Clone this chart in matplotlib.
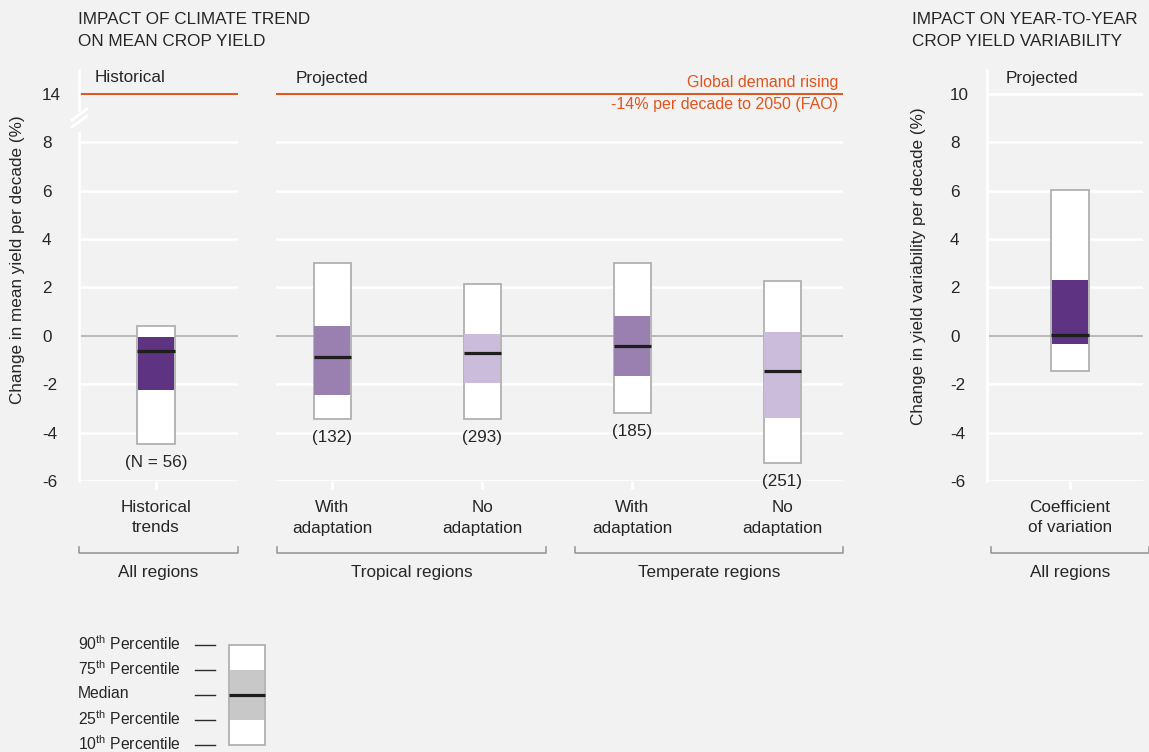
import matplotlib
matplotlib.use("Agg")
import matplotlib.pyplot as plt
from matplotlib.patches import Rectangle
from matplotlib.lines import Line2D

plt.rcParams["font.family"] = ["Liberation Sans", "DejaVu Sans"]
plt.rcParams["mathtext.fontset"] = "custom"
plt.rcParams["mathtext.rm"] = "Liberation Sans"
plt.rcParams["mathtext.it"] = "Liberation Sans:italic"
plt.rcParams["mathtext.bf"] = "Liberation Sans:bold"

# ---- data -------------------------------------------------------------
hist_label = ["Historical\ntrends"]
hist_p10 = [-4.45]
hist_p25 = [-2.25]
hist_median = [-0.62]
hist_p75 = [-0.05]
hist_p90 = [0.40]
hist_count = ["(N = 56)"]

proj_labels = ["With\nadaptation", "No\nadaptation", "With\nadaptation", "No\nadaptation"]
proj_p10 = [-3.45, -3.45, -3.20, -5.25]
proj_p25 = [-2.45, -1.95, -1.65, -3.40]
proj_median = [-0.88, -0.70, -0.43, -1.47]
proj_p75 = [0.40, 0.08, 0.83, 0.15]
proj_p90 = [3.00, 2.15, 3.00, 2.25]
proj_counts = ["(132)", "(293)", "(185)", "(251)"]

var_label = ["Coefficient\nof variation"]
var_p10 = [-1.45]
var_p25 = [-0.35]
var_median = [0.05]
var_p75 = [2.30]
var_p90 = [6.05]

groups = ["All regions", "Tropical regions", "Temperate regions", "All regions"]

demand_rise = 14          # % per decade to 2050 (FAO)
y_ticks = [-6, -4, -2, 0, 2, 4, 6, 8]
var_ticks = [-6, -4, -2, 0, 2, 4, 6, 8, 10]
legend_levels = ["90$^{\\mathrm{th}}$ Percentile", "75$^{\\mathrm{th}}$ Percentile",
                 "Median", "25$^{\\mathrm{th}}$ Percentile", "10$^{\\mathrm{th}}$ Percentile"]

# ---- style ------------------------------------------------------------
BG = "#f2f2f2"
TXT = "#262626"
ORANGE = "#e2541c"
DARK = "#5e3482"
MID = "#9a7fb1"
LIGHT = "#cbbcdb"
EDGE = "#b0b0b0"
FS = 12.3
BREAK_POS = 10            # axis position where the broken-axis value is drawn

W, H = 1149, 752
fig = plt.figure(figsize=(W / 100, H / 100), dpi=100, facecolor=BG)


def fx(x):
    return x / W


def fy(y):
    return 1 - y / H


Y_TOP, Y_BOT = 69.8, 481.0


def make_axes(x0, x1, xlim):
    ax = fig.add_axes([fx(x0), fy(Y_BOT), (x1 - x0) / W, (Y_BOT - Y_TOP) / H])
    ax.set_facecolor(BG)
    ax.set_xlim(*xlim)
    ax.set_ylim(-6, 11)
    for s in ax.spines.values():
        s.set_visible(False)
    ax.tick_params(axis="y", length=0, labelsize=FS, labelcolor=TXT, pad=26.6)
    ax.tick_params(axis="x", length=6, width=2, color="white", labelbottom=False,
                   direction="out")
    return ax


def grid(ax, levels, top_color):
    for v in levels:
        if v == 0:
            ax.axhline(0, color="#b3b3b3", lw=1.3, zorder=1)
        else:
            ax.axhline(v, color="white", lw=1.8, zorder=0.5)
    ax.axhline(BREAK_POS, color=top_color, lw=1.4 if top_color != "white" else 1.8, zorder=1)


def boxes(ax, xs, p10, p25, med, p75, p90, colors, width=0.25):
    for x, a, b, m, c, d, col in zip(xs, p10, p25, med, p75, p90, colors):
        ax.add_patch(Rectangle((x - width / 2, a), width, d - a, facecolor="white",
                               edgecolor=EDGE, lw=1.3, zorder=2))
        ax.add_patch(Rectangle((x - width / 2 + 0.004, b), width - 0.008, c - b,
                               facecolor=col, edgecolor="none", zorder=3))
        ax.plot([x - width / 2, x + width / 2], [m, m], color="#1e1e1e", lw=2.3,
                solid_capstyle="butt", zorder=4)


def counts_below(ax, xs, p10, labels):
    for x, v, t in zip(xs, p10, labels):
        ax.annotate(t, (x, v), xytext=(0, -8), textcoords="offset points",
                    ha="center", va="top", fontsize=FS, color=TXT)


def left_ticks(ax, ticks, labels):
    ax.set_yticks(ticks)
    ax.set_yticklabels(labels)
    for lab in ax.get_yticklabels():
        lab.set_horizontalalignment("left")


def lines_text(x, ys, text, **kw):
    for yy, part in zip(ys, text.split("\n")):
        fig.text(x, fy(yy), part, va="center", fontsize=kw.pop("fontsize", FS),
                 color=kw.get("color", TXT), ha=kw.get("ha", "left"))


# ---- historical panel --------------------------------------------------
ax_h = make_axes(79, 238, (-0.513, 0.547))
grid(ax_h, y_ticks, ORANGE)
ax_h.spines["left"].set_visible(True)
ax_h.spines["left"].set_color("white")
ax_h.spines["left"].set_linewidth(2)
hx = list(range(len(hist_label)))
boxes(ax_h, hx, hist_p10, hist_p25, hist_median, hist_p75, hist_p90, [DARK])
counts_below(ax_h, hx, hist_p10, hist_count)
ax_h.set_xticks(hx)
left_ticks(ax_h, y_ticks + [BREAK_POS], [str(t) for t in y_ticks] + [str(demand_rise)])

# axis break on the left spine
fig.add_artist(Rectangle((fx(74), fy(132)), 10 / W, 20 / H, facecolor=BG,
                         edgecolor="none", zorder=5))
for dy in (0, 7):
    fig.add_artist(Line2D([fx(72), fx(87)], [fy(127 + dy - 7), fy(116 + dy - 7)],
                          color="white", lw=2, zorder=6))

# ---- projected panel ---------------------------------------------------
ax_p = make_axes(276, 843, (-0.375, 3.405))
grid(ax_p, y_ticks, ORANGE)
px = list(range(len(proj_labels)))
boxes(ax_p, px, proj_p10, proj_p25, proj_median, proj_p75, proj_p90,
      [MID, LIGHT, MID, LIGHT])
counts_below(ax_p, px, proj_p10, proj_counts)
ax_p.set_xticks(px)
ax_p.set_yticks([])

# ---- variability panel -------------------------------------------------
ax_v = make_axes(987, 1143, (-0.553, 0.487))
grid(ax_v, var_ticks, "white")
ax_v.spines["left"].set_visible(True)
ax_v.spines["left"].set_color("white")
ax_v.spines["left"].set_linewidth(2)
vx = list(range(len(var_label)))
boxes(ax_v, vx, var_p10, var_p25, var_median, var_p75, var_p90, [DARK])
ax_v.set_xticks(vx)
left_ticks(ax_v, var_ticks, [str(t) for t in var_ticks])

# ---- category labels ---------------------------------------------------
for ax, xs, labels in ((ax_h, hx, hist_label), (ax_p, px, proj_labels), (ax_v, vx, var_label)):
    for x, lab in zip(xs, labels):
        xd = ax.transData.transform((x, 0))[0]
        lines_text(xd / W, (508, 528), lab, ha="center")

# ---- group brackets ----------------------------------------------------
spans = [(79, 238), (277, 546), (575, 843), (991, 1149)]
for (a, b), g in zip(spans, groups):
    fig.add_artist(Line2D([fx(a), fx(a), fx(b), fx(b)],
                          [fy(547), fy(553), fy(553), fy(547)],
                          color="#9a9a9a", lw=1.2))
    fig.text(fx((a + b) / 2) if b < W else fx(1070), fy(572), g, ha="center",
             va="center", fontsize=FS, color=TXT)

# ---- titles and panel labels ------------------------------------------
lines_text(fx(78), (20, 41), "IMPACT OF CLIMATE TREND\nON MEAN CROP YIELD")
lines_text(fx(912), (20, 41), "IMPACT ON YEAR-TO-YEAR\nCROP YIELD VARIABILITY")
fig.text(fx(95), fy(78), "Historical", ha="left", va="center", fontsize=FS, color=TXT)
fig.text(fx(296), fy(78), "Projected", ha="left", va="center", fontsize=FS, color=TXT)
fig.text(fx(1006), fy(78), "Projected", ha="left", va="center", fontsize=FS, color=TXT)
fig.text(fx(838), fy(83), "Global demand rising", ha="right", va="center",
         fontsize=11.5, color=ORANGE)
fig.text(fx(838), fy(104), f"-{demand_rise}% per decade to 2050 (FAO)", ha="right",
         va="center", fontsize=11.5, color=ORANGE)

fig.text(fx(18), fy(260), "Change in mean yield per decade (%)", rotation=90,
         ha="center", va="center", fontsize=FS, color=TXT)
fig.text(fx(918), fy(266), "Change in yield variability per decade (%)", rotation=90,
         ha="center", va="center", fontsize=FS, color=TXT)

# ---- legend -----------------------------------------------------------
ax_l = fig.add_axes([fx(229), fy(745), 36 / W, 100 / H])
ax_l.set_xlim(0, 1)
ax_l.set_ylim(0, 4)
ax_l.axis("off")
ax_l.add_patch(Rectangle((0, 0), 1, 4, facecolor="white", edgecolor=EDGE, lw=1.3,
                         clip_on=False, zorder=2))
ax_l.add_patch(Rectangle((0.02, 1), 0.96, 2, facecolor="#c8c8c8", edgecolor="none",
                         clip_on=False, zorder=3))
ax_l.plot([0, 1], [2, 2], color="#1e1e1e", lw=2.3, solid_capstyle="butt",
          clip_on=False, zorder=4)
for i, lab in enumerate(legend_levels):
    yy = 644 + 24.8 * i
    fig.text(fx(78), fy(yy), lab, ha="left", va="center", fontsize=11.3, color=TXT)
    fig.add_artist(Line2D([fx(195), fx(215)], [fy(645 + 25 * i), fy(645 + 25 * i)],
                          color="#2b2b2b", lw=1))

fig.savefig("out.png", dpi=100, facecolor=BG)
